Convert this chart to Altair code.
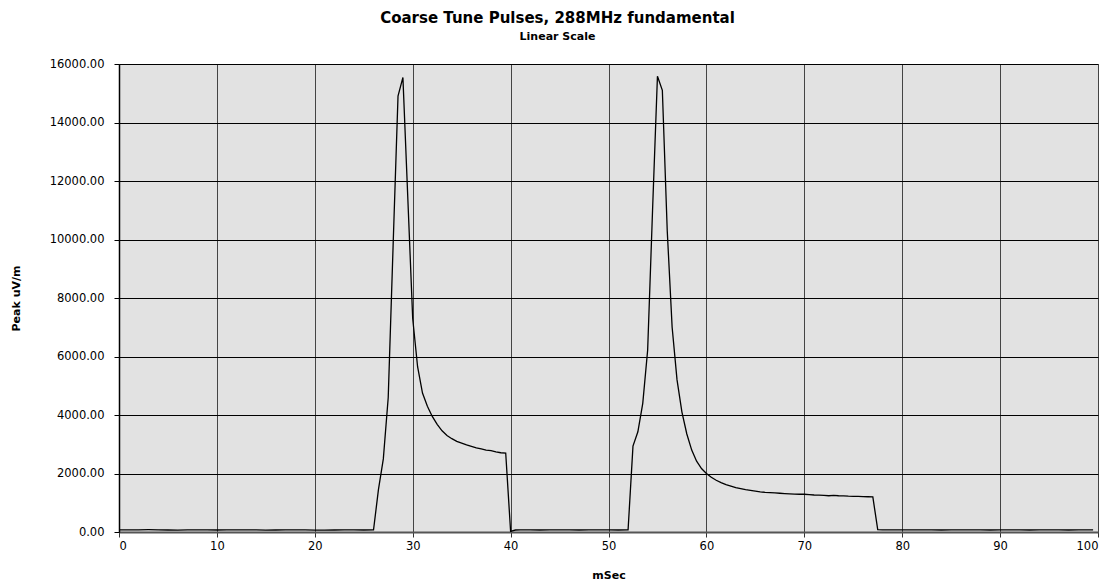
import altair as alt
import pandas as pd

# ---- data ----
msec = (
    [0, 1, 2, 3, 4, 5, 6, 7, 8, 9, 10, 11, 12, 13, 14, 15, 16, 17, 18, 19, 20,
     21, 22, 23, 24, 25, 26]
    + [26.5, 27, 27.5, 28, 28.5, 29, 30, 30.5, 31, 31.5, 32, 32.5, 33, 33.5, 34,
       34.5, 35, 35.5, 36, 36.5, 37, 37.5, 38, 38.5, 39, 39.5, 40]
    + [40.5, 41, 42, 43, 44, 45, 46, 47, 48, 49, 50, 51, 52]
    + [52.5, 53, 53.5, 54, 54.5, 55, 55.5, 56, 56.5, 57, 57.5, 58, 58.5, 59, 59.5,
       60, 60.5, 61, 61.5, 62, 62.5, 63, 63.5, 64, 64.5, 65, 65.5, 66, 66.5, 67,
       67.5, 68, 68.5, 69, 69.5, 70, 70.5, 71, 71.5, 72, 72.5, 73, 73.5, 74, 74.5,
       75, 75.5, 76, 76.5, 77, 77.5]
    + [78, 79, 80, 81, 82, 83, 84, 85, 86, 87, 88, 89, 90, 91, 92, 93, 94, 95,
       96, 97, 98, 99, 99.5]
)
peak = (
    [70, 72, 75, 78, 74, 68, 66, 70, 73, 71, 69, 72, 76, 74, 70, 67, 69, 72, 74,
     71, 66, 64, 68, 71, 70, 68, 72]
    + [1450, 2500, 4600, 9800, 14900, 15540, 7300, 5650, 4750, 4300, 3950, 3680,
       3460, 3300, 3190, 3100, 3040, 2980, 2930, 2880, 2840, 2800, 2780, 2740,
       2710, 2700, 20]
    + [68, 70, 72, 69, 73, 75, 71, 68, 70, 72, 70, 68, 72]
    + [2935, 3425, 4400, 6220, 11000, 15580, 15100, 10300, 7000, 5200, 4100, 3350,
       2800, 2420, 2170, 2000, 1870, 1770, 1690, 1620, 1570, 1520, 1485, 1450,
       1425, 1400, 1375, 1355, 1345, 1335, 1325, 1315, 1305, 1295, 1290, 1290,
       1280, 1265, 1260, 1250, 1240, 1250, 1240, 1235, 1225, 1220, 1215, 1210,
       1205, 1200, 80]
    + [75, 72, 70, 73, 74, 71, 69, 72, 75, 73, 70, 68, 71, 74, 72, 69, 70, 73,
       71, 68, 70, 72, 70]
)
x_ticks = [0, 10, 20, 30, 40, 50, 60, 70, 80, 90, 100]
y_ticks = [0, 2000, 4000, 6000, 8000, 10000, 12000, 14000, 16000]

df = pd.DataFrame({"msec": msec, "peak": peak})

FONT = "DejaVu Sans"

chart = (
    alt.Chart(df)
    .mark_line(color="black", strokeWidth=1.3, clip=True)
    .encode(
        x=alt.X(
            "msec:Q",
            scale=alt.Scale(domain=[0, 100], nice=False, zero=False),
            axis=alt.Axis(
                title="mSec",
                values=x_ticks,
                format="d",
                grid=True,
                gridColor="#444444",
                gridWidth=1,
                domainColor="#555555",
                domainWidth=2,
                tickColor="#333333",
                tickSize=5,
                labelPadding=3,
                labelFont=FONT,
                labelFontSize=11.5,
                labelColor="black",
                titleFont=FONT,
                titleFontSize=11,
                titleFontWeight="bold",
                titleColor="black",
                titleY=46,
                titleBaseline="alphabetic",
            ),
        ),
        y=alt.Y(
            "peak:Q",
            scale=alt.Scale(domain=[0, 16000], nice=False),
            axis=alt.Axis(
                title="Peak uV/m",
                values=y_ticks,
                format=".2f",
                grid=True,
                gridColor="black",
                gridWidth=1,
                domainColor="black",
                domainWidth=1.5,
                tickColor="black",
                tickSize=5,
                labelPadding=10,
                labelFont=FONT,
                labelFontSize=11.5,
                labelColor="black",
                titleFont=FONT,
                titleFontSize=11,
                titleFontWeight="bold",
                titleColor="black",
                titleX=-103,
                titleBaseline="middle",
            ),
        ),
    )
    .properties(
        width=979,
        height=468,
        title=alt.TitleParams(
            text="Coarse Tune Pulses, 288MHz fundamental",
            subtitle="Linear Scale",
            font=FONT,
            fontSize=15,
            fontWeight="bold",
            color="black",
            subtitleFont=FONT,
            subtitleFontSize=11,
            subtitleFontWeight="bold",
            subtitleColor="black",
            subtitlePadding=5,
            anchor="middle",
            dx=-51,
            offset=16,
        ),
        autosize=alt.AutoSizeParams(type="none"),
        padding={"left": 111, "top": 56, "right": 8, "bottom": 48},
        background="white",
    )
    .configure_view(fill="#e2e2e2", stroke="#888888", strokeWidth=1)
)

chart.save("out.html", embed_options={"renderer": "svg", "actions": False})
